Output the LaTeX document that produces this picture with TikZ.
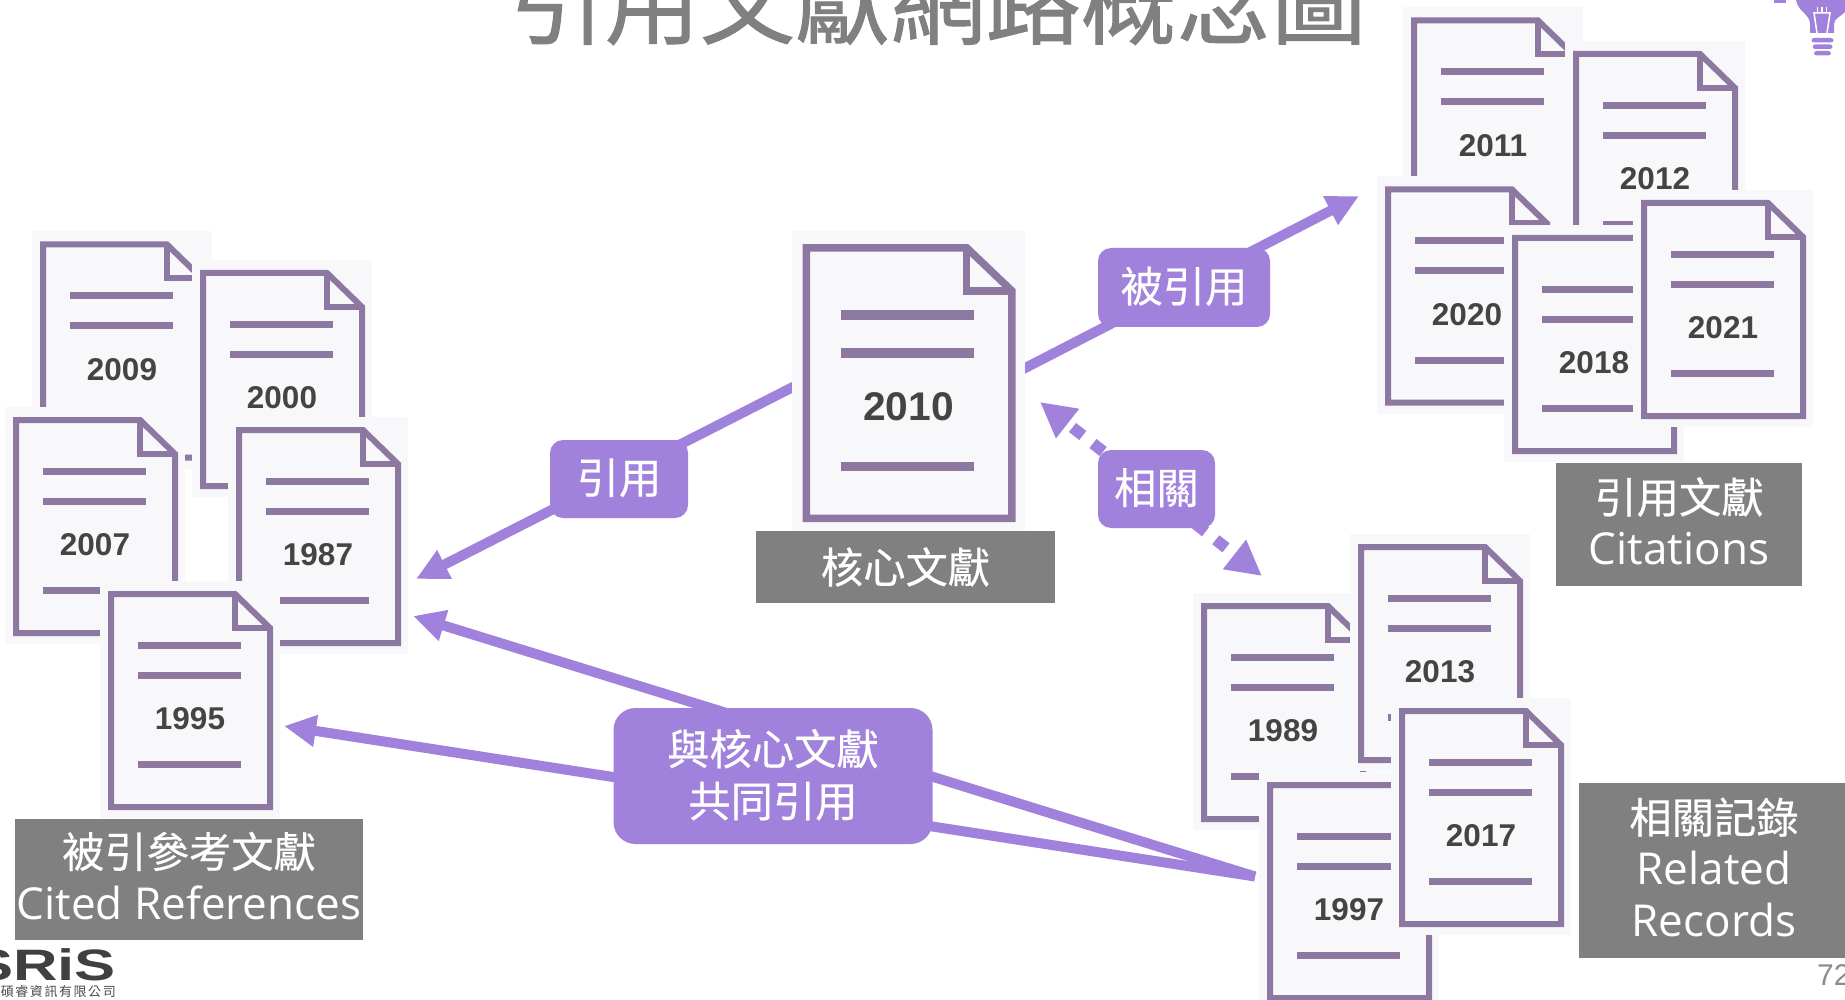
\documentclass[tikz,border=0pt]{standalone}
\usepackage{fontspec}
\setmainfont{Liberation Sans}
\setsansfont{Open Sans}
\newfontfamily\cjk[FakeBold=0.4]{Noto Sans CJK TC}
\newfontfamily\cjktitle[FakeBold=1.0]{Noto Sans CJK TC}
\newfontfamily\cjkspaced[LetterSpace=12]{Noto Sans CJK TC}
\usetikzlibrary{arrows.meta, backgrounds}

\definecolor{docpurple}{RGB}{140,120,160}
\definecolor{docpaper}{RGB}{248,248,251}
\definecolor{linkpurple}{RGB}{160,130,220}
\definecolor{tagfill}{RGB}{128,128,128}
\definecolor{yeargray}{RGB}{68,68,68}

% One document icon: [scope options]{name}{left}{top}{year}
\newcommand{\docicon}[5][]{
  \begin{scope}[shift={(#3,#4)}, transform shape, line width=6pt, #1]
    \node[docpaperbox] (#2) at (82,108.5) {};
    \draw[docline] (3,3) -- (127,3) -- (162,37) -- (162,216) -- (3,216) -- cycle;
    \draw[docline] (127,3) -- (127,37) -- (162,37);
    \draw[docrule] (30,54.5) -- (133,54.5);
    \draw[docrule] (30,84.5) -- (133,84.5);
    \draw[docrule] (30,173.5) -- (133,173.5);
    \node[yearlabel] (#2year) at (82,128) {#5};
  \end{scope}
}
% Latin line of a caption
\newcommand{\captionlatin}[1]{{\sffamily\fontsize{44}{51.5}\selectfont #1}}

\begin{document}
\begin{tikzpicture}[
  x=1pt, y=-1pt,
  every node/.style={align=center},
  % Document icons
  docpaperbox/.style={rectangle, fill=docpaper, minimum width=180pt, minimum height=237pt, inner sep=0pt},
  docline/.style={draw=docpurple, miter limit=10},
  docrule/.style={draw=docpurple, line width=7pt},
  yearlabel/.style={font=\bfseries\fontsize{31.5}{36}\selectfont, text=yeargray, inner sep=0pt},
  % Purple labels on the arrows
  linklabel/.style={rectangle, fill=linkpurple, text=white, rounded corners=13pt, inner sep=0pt, text depth=6pt, font=\fontsize{42.3}{52}\selectfont\cjk},
  % Gray captions
  captionbox/.style={rectangle, fill=tagfill, text=white, inner sep=0pt, font=\fontsize{42.3}{51.5}\selectfont\cjk},
  captionstack/.style={captionbox, text depth=7pt},
  % Arrows
  flowarrow/.style={draw=linkpurple, line width=10pt, -{Triangle[length=32pt, width=30pt]}},
  relatedarrow/.style={draw=linkpurple, line width=11.5pt, dash pattern=on 13pt off 13pt, dash phase=17.5pt, {Triangle[length=35pt, width=35pt]}-{Triangle[length=35pt, width=35pt]}}
]
\useasboundingbox (0,0) rectangle (1845,1000);

% === TITLE ===
\node[anchor=base, inner sep=0pt, text=tagfill, font=\fontsize{95.2}{100}\selectfont\cjktitle] (title) at (938,37) {引用文獻網路概念圖};

% === DOCUMENTS ===

% Cited references
\docicon{doc2009}{40}{241.5}{2009}
\docicon{doc2000}{200}{270}{2000}
\docicon{doc2007}{13}{417}{2007}
\docicon{doc1987}{236}{427}{1987}
\docicon{doc1995}{108}{591}{1995}

% Core paper
\docicon[xscale=1.293, yscale=1.27, line width=7.5pt, docrule/.append style={line width=9.5pt, yshift=-1.5pt}]{core}{802.5}{244}{2010}

% Citations
\docicon{doc2011}{1411}{17.5}{2011}
\docicon{doc2012}{1573}{51}{2012}
\docicon{doc2020}{1385}{186.5}{2020}
\docicon{doc2018}{1512}{235}{2018}
\docicon{doc2021}{1641}{200}{2021}

% Related records
\docicon{doc1989}{1201}{603}{1989}
\docicon{doc2013}{1358}{544}{2013}
\docicon{doc1997}{1267}{782}{1997}
\docicon{doc2017}{1399}{708}{2017}

% === CAPTIONS ===
\node[captionbox, minimum width=299pt, minimum height=72pt] (coretag) at (905.5,567) {核心文獻};
\node[captionstack, minimum width=348pt, minimum height=121pt] (refstag) at (189,879) {被引參考文獻\\\captionlatin{Cited References}};
\node[captionstack, minimum width=246pt, minimum height=122.5pt] (citestag) at (1679,524.5) {引用文獻\\\captionlatin{Citations}};
\node[captionstack, minimum width=270pt, minimum height=175pt] (relatedtag) at (1714,870.5) {相關記錄\\\captionlatin{Related}\\\captionlatin{Records}};

% === LABELS ===
\node[linklabel, minimum width=138pt, minimum height=78pt] (citeslabel) at (619,479) {引用};
\node[linklabel, minimum width=172pt, minimum height=79pt] (citedlabel) at (1184,287.5) {被引用};
\node[linklabel, minimum width=117pt, minimum height=78pt] (relatedlabel) at (1156.5,489) {相關};
\node[linklabel, rounded corners=22pt, minimum width=319pt, minimum height=136pt] (cocitelabel) at (773,776) {與核心文獻\\共同引用};

% === ARROWS ===
\coordinate (refstip) at (416,579);
\coordinate (citestip) at (1359,196);
\coordinate (relatedfrom) at (1040,402);
\coordinate (relatedto) at (1262,576);
\coordinate (cotipup) at (413,616);
\coordinate (cotipdown) at (284,726);

\begin{scope}[on background layer]
  \fill[white] (0,0) rectangle (1845,1000);
  \draw[flowarrow] ([xshift=10pt, yshift=-3pt]core.west) -- (refstip);
  \draw[flowarrow] ([xshift=-10pt, yshift=11pt]core.east) -- (citestip);
  \draw[relatedarrow] (relatedfrom) -- (relatedto);
  \draw[flowarrow] ([xshift=-1pt, yshift=14pt]doc1997.west) -- (cotipup);
  \draw[flowarrow] ([xshift=-1pt, yshift=14pt]doc1997.west) -- (cotipdown);
\end{scope}

% === PAGE ITEMS ===

% Logo
\node[anchor=east, inner sep=0pt, text=black!75, font=\bfseries\fontsize{44}{44}\selectfont] (logo) at (116,965) {\scalebox{1.4}[1]{SRiS}};
\node[anchor=east, inner sep=0pt, text=black!70, font=\fontsize{13}{14}\selectfont\cjkspaced] (company) at (116,992) {碩睿資訊有限公司};

% Page number
\node[anchor=base west, inner sep=0pt, text=black!45, font=\fontsize{30}{32}\selectfont] (pagenum) at (1817,985) {72};

% Bulb
\fill[linkpurple] (1774,0) rectangle (1786,3);
\fill[linkpurple] (1796,0) .. controls (1798,12) and (1810,14) .. (1810,24) -- (1810,33) -- (1834,33) -- (1834,24) .. controls (1834,18) and (1842,16) .. (1845,12) -- (1845,0) -- cycle;
\draw[white, line width=1.5pt] (1817,33) -- (1814,13) -- (1830,13) -- (1827,33);
\draw[white, line width=1.2pt] (1817.5,7) -- (1817.5,13) (1822,7) -- (1822,13) (1826.5,7) -- (1826.5,13);
\fill[linkpurple, rounded corners=2.5pt] (1811.5,38) rectangle (1833.5,42.5);
\fill[linkpurple, rounded corners=2.5pt] (1812.5,44.5) rectangle (1832.5,49);
\fill[linkpurple, rounded corners=2.5pt] (1814,51) rectangle (1831,55.5);

\end{tikzpicture}
\end{document}
